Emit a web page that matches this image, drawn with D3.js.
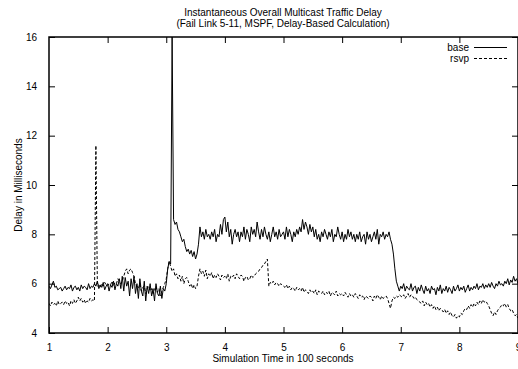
<!DOCTYPE html>
<html>
<head>
<meta charset="utf-8">
<script src="https://cdn.jsdelivr.net/npm/d3@7"></script>
<style>
body{margin:0;background:#fff;}
text{font-family:"Liberation Sans",Arial,sans-serif;font-size:10px;fill:#000;}
</style>
</head>
<body>
<script>
const width=518;
const height=369;

const titleLines=['Instantaneous Overall Multicast Traffic Delay','(Fail Link 5-11, MSPF, Delay-Based Calculation)'];
const xLabel='Simulation Time in 100 seconds';
const yLabel='Delay in Milliseconds';
const xTicks=[1,2,3,4,5,6,7,8,9];
const yTicks=[4,6,8,10,12,14,16];
const seriesNames=['base','rsvp'];

// samples every 0.025 (x100 s), from 1.0 to 9.0
const tStart=1, tStep=0.025;

const base=[
5.9,5.8,5.95,6.1,5.85,5.9,5.75,5.8,5.85,5.7,
5.8,5.9,5.75,5.85,5.8,5.95,5.7,5.85,5.9,5.75,
5.85,5.7,5.95,5.8,5.9,5.85,5.75,6.0,5.8,5.9,
5.85,6.0,5.9,6.1,5.8,5.95,5.85,6.05,5.75,5.9,
6.0,5.7,5.95,5.85,6.1,5.75,6.0,5.9,6.2,5.8,
6.3,5.7,6.25,5.9,6.1,5.5,6.2,5.8,6.3,5.6,
6.0,5.4,6.2,5.7,5.5,6.1,5.3,5.9,5.6,6.0,
5.5,5.8,5.3,6.0,5.6,5.5,5.9,5.4,5.8,5.7,
6.0,6.6,6.9,6.8,16.0,8.6,8.4,8.5,8.2,8.1,
7.9,7.7,7.8,7.5,7.3,7.4,7.2,7.35,7.1,7.3,
7.0,7.2,7.6,8.3,7.9,8.1,7.8,8.2,7.9,8.0,
7.8,8.1,7.9,8.2,7.7,8.0,7.9,8.4,8.0,8.6,
8.7,8.1,8.5,7.9,8.2,7.6,8.0,8.2,7.9,8.1,
7.7,8.1,7.9,8.3,7.8,8.2,8.0,7.7,8.3,8.0,
8.2,7.9,8.5,8.1,7.8,8.2,7.9,8.3,8.0,7.8,
8.1,7.7,8.0,8.3,7.9,8.1,7.8,8.2,7.9,8.0,
8.1,7.8,8.3,7.9,8.2,8.0,7.7,8.1,7.9,8.2,
8.0,8.3,8.1,8.6,8.2,8.5,8.3,8.0,8.4,8.1,
8.3,7.9,8.2,7.8,8.0,7.7,8.1,7.9,8.2,8.0,
7.8,8.1,7.9,8.2,7.7,8.0,7.9,8.3,8.0,7.8,
8.1,7.7,8.0,7.8,8.2,7.9,8.1,7.8,8.0,7.7,
8.0,7.8,8.1,7.7,7.9,8.0,7.6,8.1,7.8,8.0,
7.7,7.9,8.1,7.8,8.2,7.6,8.0,7.9,8.1,7.8,
8.0,7.9,8.1,7.8,7.6,7.2,6.6,6.1,5.9,5.7,
5.9,5.8,6.0,5.7,5.9,5.8,5.75,6.0,5.7,5.85,
5.9,5.6,5.85,5.7,5.95,5.75,5.6,5.9,5.7,5.8,
5.6,5.9,5.75,5.8,5.55,5.85,5.7,5.95,5.6,5.8,
5.7,5.9,5.65,5.85,5.75,5.6,5.9,5.7,5.8,5.95,
5.7,5.85,5.75,5.9,5.65,5.8,5.95,5.7,5.85,5.75,
5.9,5.8,6.0,5.75,5.9,5.85,6.0,5.8,5.95,5.85,
6.0,5.85,6.05,5.9,5.8,6.0,5.9,6.1,5.95,6.0,
5.9,6.1,6.0,6.2,5.95,6.15,6.05,6.3,6.1,6.2,
6.0
];

const rsvp=[
5.2,5.1,5.25,5.15,5.2,5.1,5.3,5.15,5.2,5.25,
5.15,5.3,5.2,5.25,5.1,5.3,5.2,5.35,5.2,5.3,
5.45,5.3,5.4,5.25,5.35,5.2,5.3,5.25,5.4,5.3,
5.35,5.3,11.6,5.9,5.95,5.85,6.0,5.9,6.05,5.95,
5.9,6.0,5.95,6.1,5.9,6.05,6.0,6.2,6.1,6.0,
6.1,6.3,6.5,6.6,6.4,6.55,6.6,6.45,6.3,6.0,
5.9,5.8,6.0,5.7,5.85,5.9,5.6,5.8,5.9,5.7,
5.8,5.6,5.75,5.9,5.65,5.8,5.5,5.7,5.85,6.0,
6.2,6.6,6.9,6.7,6.5,6.6,6.3,6.4,6.2,6.35,
6.1,6.3,6.0,6.2,6.25,6.1,5.9,6.0,5.8,5.95,
5.8,5.9,6.3,6.6,6.4,6.5,6.3,6.55,6.2,6.4,
6.3,6.45,6.2,6.35,6.25,6.4,6.3,6.15,6.35,6.25,
6.3,6.2,6.4,6.1,6.3,6.25,6.35,6.2,6.4,6.3,
6.2,6.35,6.3,6.1,6.25,6.3,6.15,6.2,6.35,6.25,
6.3,6.4,6.45,6.5,6.6,6.65,6.75,6.8,6.9,7.0,
5.9,6.05,6.0,6.1,5.95,6.05,6.0,5.9,6.0,5.95,
5.9,5.85,5.95,5.8,5.9,5.75,5.85,5.8,5.7,5.85,
5.75,5.8,5.7,5.85,5.65,5.75,5.7,5.6,5.75,5.65,
5.7,5.6,5.75,5.55,5.7,5.65,5.6,5.7,5.55,5.65,
5.6,5.7,5.5,5.65,5.6,5.55,5.7,5.5,5.6,5.55,
5.6,5.5,5.65,5.55,5.45,5.6,5.5,5.55,5.45,5.6,
5.5,5.4,5.55,5.45,5.5,5.35,5.5,5.45,5.4,5.5,
5.45,5.3,5.5,5.4,5.55,5.45,5.35,5.5,5.4,5.45,
5.5,5.4,5.2,5.0,5.3,5.45,5.4,5.5,5.45,5.55,
5.5,5.45,5.55,5.4,5.5,5.6,5.45,5.55,5.5,5.4,
5.45,5.35,5.3,5.25,5.2,5.3,5.1,5.25,5.15,5.2,
5.05,5.15,5.0,5.1,4.95,5.05,4.9,5.0,4.95,4.85,
4.95,4.8,4.9,4.75,4.85,4.7,4.65,4.75,4.6,4.7,
4.65,4.8,4.75,4.9,5.0,4.95,5.1,5.0,5.15,5.05,
5.2,5.1,5.25,5.15,5.3,5.2,5.35,5.25,5.3,5.2,
5.1,4.95,4.8,4.7,4.85,4.75,4.9,5.0,5.05,5.15,
5.1,5.2,5.05,5.15,5.0,4.9,4.95,4.8,4.7,4.75,
4.6
];

const mLeft=49, mRight=518, mTop=37, mBottom=333;

let svg=d3.select('body').append('svg')
  .attr('width',width)
  .attr('height',height)
  .attr('id','plot');

let xScale=d3.scaleLinear().domain([1,9]).range([mLeft,mRight]);
let yScale=d3.scaleLinear().domain([4,16]).range([mBottom,mTop]);

svg.append('defs').append('clipPath').attr('id','clip')
  .append('rect').attr('x',mLeft).attr('y',mTop).attr('width',mRight-mLeft).attr('height',mBottom-mTop);

// title
svg.append('g').selectAll('text').data(titleLines).enter().append('text')
  .attr('x',283).attr('y',(d,i)=>16+i*11)
  .attr('text-anchor','middle')
  .text(d=>d);

// axes, gnuplot style: ticks inside, mirrored
let tick=6;
svg.append('g').attr('transform',`translate(0,${mBottom})`)
  .call(d3.axisBottom(xScale).tickValues(xTicks).tickSize(-tick).tickPadding(tick+5).tickFormat(d3.format('d')))
  .call(g=>g.select('.domain').remove())
  .call(g=>g.selectAll('text').style('font-size','10px').style('font-family','"Liberation Sans",Arial,sans-serif'));
svg.append('g').attr('transform',`translate(0,${mTop})`)
  .call(d3.axisTop(xScale).tickValues(xTicks.slice(1)).tickSize(-tick).tickFormat(''))
  .call(g=>g.select('.domain').remove());
svg.append('g').attr('transform',`translate(${mLeft},0)`)
  .call(d3.axisLeft(yScale).tickValues(yTicks).tickSize(-tick).tickPadding(tick+6).tickFormat(d3.format('d')))
  .call(g=>g.select('.domain').remove())
  .call(g=>g.selectAll('text').style('font-size','10px').style('font-family','"Liberation Sans",Arial,sans-serif'));
svg.append('g').attr('transform',`translate(${mRight},0)`)
  .call(d3.axisRight(yScale).tickValues(yTicks).tickSize(-tick).tickFormat(''))
  .call(g=>g.select('.domain').remove());

svg.append('rect')
  .attr('x',mLeft).attr('y',mTop).attr('width',mRight-mLeft).attr('height',mBottom-mTop)
  .style('fill','none').style('stroke','#000').style('stroke-width',1.5);

svg.append('text').text(xLabel)
  .attr('x',283).attr('y',362).attr('text-anchor','middle');
svg.append('text').text(yLabel)
  .attr('transform',`translate(22,${(mTop+mBottom)/2}) rotate(-90)`)
  .attr('text-anchor','middle');

let line=d3.line()
  .x((d,i)=>xScale(tStart+i*tStep))
  .y(d=>yScale(d));

let dashes=['none','3,2'];
let plot=svg.append('g').attr('clip-path','url(#clip)');
[base,rsvp].forEach((s,k)=>{
  plot.append('path').datum(s)
    .attr('d',line)
    .style('fill','none')
    .style('stroke','#000')
    .style('stroke-width',1)
    .style('stroke-dasharray',dashes[k]);
});

// legend
let legend=svg.append('g').attr('id','legend');
seriesNames.forEach((n,k)=>{
  let y=47+k*11;
  legend.append('text').text(n).attr('x',469).attr('y',y+4).attr('text-anchor','end');
  legend.append('line').attr('x1',474).attr('x2',507).attr('y1',y+0.5).attr('y2',y+0.5)
    .style('stroke','#000').style('stroke-width',1).style('stroke-dasharray',dashes[k]);
});
</script>
</body>
</html>
